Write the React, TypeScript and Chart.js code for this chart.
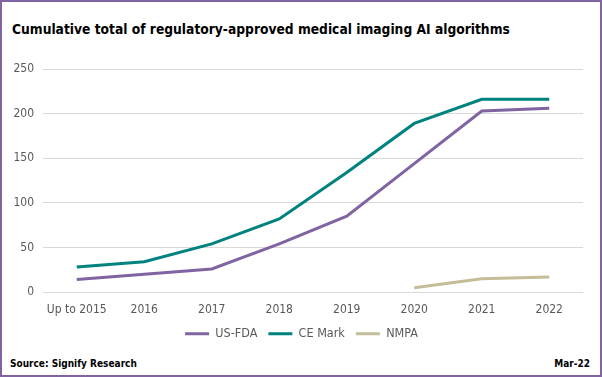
import React, { useEffect, useRef } from "react";
import { Chart, registerables } from "chart.js";

Chart.register(...registerables);

const categories = ["Up to 2015", "2016", "2017", "2018", "2019", "2020", "2021", "2022"];
const usFda = [14, 20, 26, 54, 85, 144, 203, 206];
const ceMark = [28, 34, 54, 82, 134, 189, 216, 216];
const nmpa = [null, null, null, null, null, 5, 15, 17];

const FONT = "'DejaVu Sans Condensed', 'DejaVu Sans', sans-serif";

const legendNudge = {
  id: "legendNudge",
  afterLayout(chart: any) {
    const lg = chart.legend;
    if (!lg) return;
    lg.left += 10;
    lg.right += 10;
    lg.top -= 4;
    lg.bottom -= 4;
  },
};

export default function App() {
  const ref = useRef<HTMLCanvasElement | null>(null);
  useEffect(() => {
    if (!ref.current) return;
    const chart = new Chart(ref.current, {
      type: "line",
      data: {
        labels: categories,
        datasets: [
          { label: "US-FDA", data: usFda, borderColor: "#8064A2", backgroundColor: "#8064A2", borderWidth: 3, pointRadius: 0, tension: 0 },
          { label: "CE Mark", data: ceMark, borderColor: "#00827F", backgroundColor: "#00827F", borderWidth: 3, pointRadius: 0, tension: 0 },
          { label: "NMPA", data: nmpa, borderColor: "#C4BD97", backgroundColor: "#C4BD97", borderWidth: 3, pointRadius: 0, tension: 0 },
        ],
      },
      plugins: [legendNudge],
      options: {
        animation: false,
        responsive: false,
        maintainAspectRatio: false,
        layout: { padding: { left: 0, right: 19, top: 19, bottom: 0 } },
        plugins: {
          title: { display: false },
          tooltip: { enabled: false },
          legend: {
            position: "bottom",
            labels: {
              boxWidth: 24,
              boxHeight: 3,
              padding: 11,
              color: "#595959",
              font: { family: FONT, size: 12.5 },
              generateLabels: (c: any) => {
                const items = Chart.defaults.plugins.legend.labels.generateLabels(c);
                return items.map((it: any) => ({ ...it, lineWidth: 0, fillStyle: it.strokeStyle }));
              },
            },
          },
        },
        scales: {
          x: {
            offset: true,
            grid: { display: false, drawTicks: true, tickLength: 8 },
            border: { display: false },
            ticks: { color: "#595959", font: { family: FONT, size: 12 }, padding: 3, maxRotation: 0, autoSkip: false },
            afterFit: (s: any) => {
              s.paddingLeft = 0;
              s.paddingRight = 0;
            },
          },
          y: {
            min: 0,
            max: 250,
            grid: { color: "#D9D9D9", lineWidth: 1, drawTicks: false },
            border: { display: false },
            ticks: { stepSize: 50, color: "#595959", font: { family: FONT, size: 12 }, padding: 9 },
            afterFit: (s: any) => {
              s.width = 43;
            },
          },
        },
      },
    });
    return () => chart.destroy();
  }, []);

  return (
    <div
      style={{
        position: "fixed",
        left: 0,
        top: 0,
        width: 602,
        height: 377,
        boxSizing: "border-box",
        border: "2px solid #8064A2",
        background: "#fff",
        fontFamily: FONT,
      }}
    >
      <div style={{ position: "absolute", left: 10, top: 19, fontSize: 13.7, fontWeight: "bold", color: "#000", whiteSpace: "nowrap", lineHeight: "16px" }}>
        Cumulative total of regulatory-approved medical imaging AI algorithms
      </div>
      <canvas ref={ref} width={602} height={304} style={{ position: "absolute", left: -2, top: 48, width: 602, height: 304 }} />
      <div style={{ position: "absolute", left: 8, top: 355, fontSize: 10, fontWeight: "bold", color: "#000", lineHeight: "14px" }}>
        Source: Signify Research
      </div>
      <div style={{ position: "absolute", right: 10, top: 355, fontSize: 10, fontWeight: "bold", color: "#000", lineHeight: "14px" }}>
        Mar-22
      </div>
    </div>
  );
}
